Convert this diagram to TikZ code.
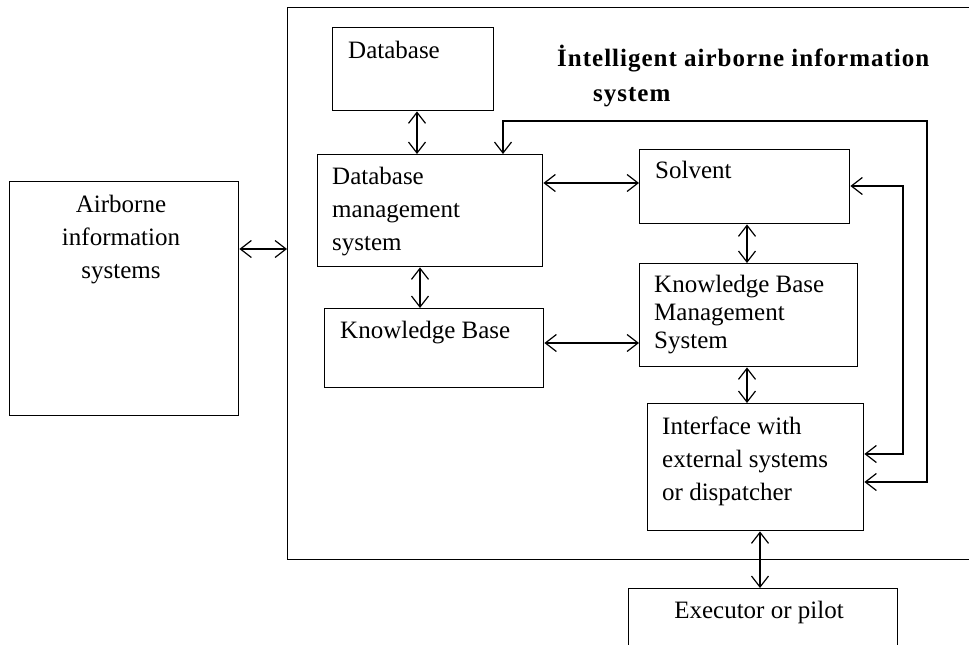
\documentclass[tikz,border=0pt]{standalone}
\usepackage{fontspec}
\setmainfont{Liberation Serif}
\newfontfamily\titlefont[LetterSpace=4]{Liberation Serif}
\usetikzlibrary{arrows.meta}
\begin{document}
\begin{tikzpicture}[x=1pt,y=-1pt,
  box/.style={draw, line width=1.4pt, inner sep=0pt, anchor=north west},
  lbl/.style={anchor=base west, inner sep=0pt, font=\fontsize{25}{33}\selectfont},
  ttl/.style={anchor=base west, inner sep=0pt, font=\titlefont\fontsize{25}{33}\selectfont\bfseries},
  arr/.style={line width=1.2pt, {Straight Barb[length=11pt,width=17pt,line width=1.2pt]}-{Straight Barb[length=11pt,width=17pt,line width=1.2pt]}}]
\useasboundingbox (0,0) rectangle (969,645);
\clip (0,0) rectangle (969,645);
% boxes
\node[box, minimum width=229pt, minimum height=234pt] (air) at (9,181) {};
\node[box, minimum width=720pt, minimum height=552pt] (sys) at (287,7) {};
\node[box, minimum width=161pt, minimum height=83pt] (db) at (332,27) {};
\node[box, minimum width=225pt, minimum height=112pt] (dbms) at (317,154) {};
\node[box, minimum width=219pt, minimum height=79pt] (kb) at (324,308) {};
\node[box, minimum width=210pt, minimum height=74pt] (sol) at (639,149) {};
\node[box, minimum width=218pt, minimum height=103pt] (kbms) at (639,263) {};
\node[box, minimum width=216pt, minimum height=127pt] (iface) at (647,403) {};
\node[box, minimum width=269pt, minimum height=80pt] (exec) at (628,588) {};
% texts (multi-line nodes: base = last line)
\node[lbl, anchor=base, align=center] (tair) at (121,278) {Airborne\\information\\systems};
\node[lbl] (tdb) at (348,58) {Database};
\node[lbl, align=left] (tdbms) at (332,250) {Database\\management\\system};
\node[lbl] (tkb) at (340,338) {Knowledge Base};
\node[lbl] (tsol) at (655,178) {Solvent};
\node[lbl, align=left, font=\fontsize{25}{28}\selectfont] (tkbms) at (654,348) {Knowledge Base\\Management\\System};
\node[lbl, align=left] (tif) at (662,500) {Interface with\\external systems\\or dispatcher};
\node[lbl, anchor=base] (tex) at (759,618) {Executor or pilot};
\node[ttl] (t1) at (557,66) {İntelligent airborne information};
\node[ttl] (t2) at (593,101) {system};
% level coordinates
\coordinate (yA) at (0,249);
\coordinate (xDB) at (417,0);
\coordinate (xKB) at (420,0);
\coordinate (yDS) at (0,183);
\coordinate (yKK) at (0,343);
\coordinate (xSK) at (747,0);
\coordinate (xIE) at (760,0);
\coordinate (f1) at (927,121);
\coordinate (x503) at (503,0);
\coordinate (y482) at (0,482);
\coordinate (f2) at (903,186);
\coordinate (y454) at (0,454);
% connectors
\draw[arr] (air.east |- yA) -- (sys.west |- yA);
\draw[arr] (db.south -| xDB) -- (dbms.north -| xDB);
\draw[arr] (dbms.south -| xKB) -- (kb.north -| xKB);
\draw[arr] (dbms.east |- yDS) -- (sol.west |- yDS);
\draw[arr] (kb.east |- yKK) -- (kbms.west |- yKK);
\draw[arr] (sol.south -| xSK) -- (kbms.north -| xSK);
\draw[arr] (kbms.south -| xSK) -- (iface.north -| xSK);
\draw[arr] (iface.south -| xIE) -- (exec.north -| xIE);
\draw[arr] (dbms.north -| x503) |- (f1) |- (iface.east |- y482);
\draw[arr] (sol.east |- f2) -- (f2) |- (iface.east |- y454);
\end{tikzpicture}
\end{document}
